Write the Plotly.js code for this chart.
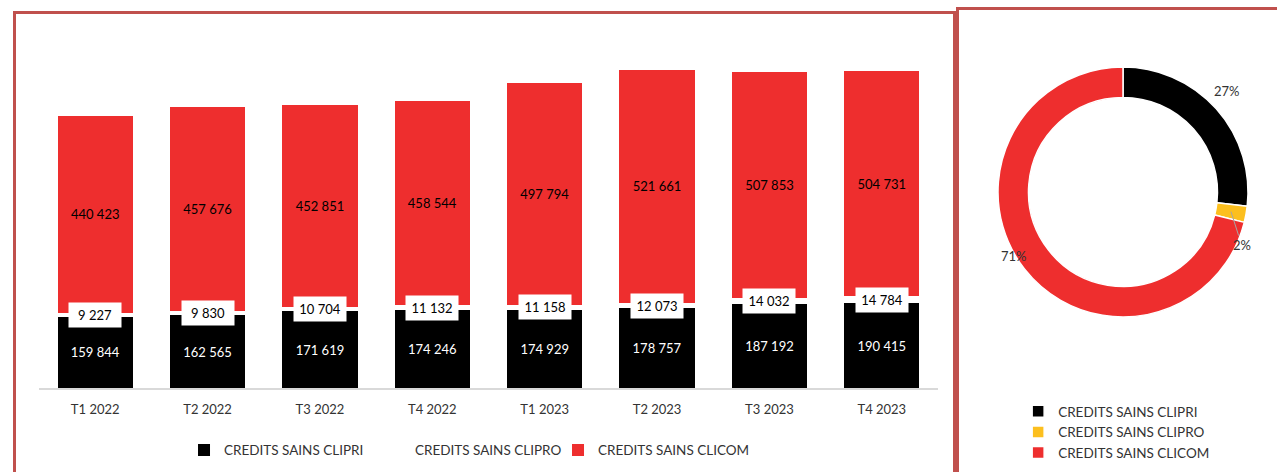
<!DOCTYPE html>
<html>
<head>
<meta charset="utf-8">
<script src="https://cdn.plot.ly/plotly-3.0.1.min.js"></script>
<style>
  html, body { margin: 0; padding: 0; background: #ffffff; width: 1277px; height: 472px; overflow: hidden; position: relative; }
  #leftBox { position: absolute; left: 13px; top: 11px; width: 937px; height: 470px; border: 3px solid #c0504d; }
  #rightBox { position: absolute; left: 956px; top: 7px; width: 340px; height: 475px; border: 3px solid #c0504d; }
  #barChart { position: absolute; left: 0; top: 0; }
  #pieChart { position: absolute; left: 0; top: 0; }
</style>
</head>
<body>
<div id="leftBox"><div id="barChart"></div></div>
<div id="rightBox"><div id="pieChart"></div></div>
<script>
// ---- data ----
const categories = ["T1 2022", "T2 2022", "T3 2022", "T4 2022", "T1 2023", "T2 2023", "T3 2023", "T4 2023"];
const clipri = [159844, 162565, 171619, 174246, 174929, 178757, 187192, 190415];
const clipro = [9227, 9830, 10704, 11132, 11158, 12073, 14032, 14784];
const clicom = [440423, 457676, 452851, 458544, 497794, 521661, 507853, 504731];
const seriesNames = ["CREDITS SAINS CLIPRI", "CREDITS SAINS CLIPRO", "CREDITS SAINS CLICOM"];
const pieValues = [190415, 14784, 504731];

// ---- styles ----
const RED = "#ee2e2e";
const BLACK = "#000000";
const YELLOW = "#fcbf1e";
const FONT = "Lato, 'Open Sans', sans-serif";
const TXT = "#333333";

function fmt(n) { return String(n).replace(/\B(?=(\d{3})+(?!\d))/g, " "); }

const barTraces = [
  {
    type: "bar", name: seriesNames[0], x: categories, y: clipri,
    marker: { color: BLACK, line: { width: 0 } },
    text: clipri.map(fmt), textposition: "inside", insidetextanchor: "middle",
    textangle: 0, constraintext: "none",
    textfont: { family: FONT, size: 13, color: "#ffffff" },
    legendwidth: 146,
    hoverinfo: "skip"
  },
  {
    type: "bar", name: seriesNames[1], x: categories, y: clipro,
    marker: { color: "#ffffff", line: { width: 0 } },
    textposition: "none", legendwidth: 138, hoverinfo: "skip"
  },
  {
    type: "bar", name: seriesNames[2], x: categories, y: clicom,
    marker: { color: RED, line: { width: 0 } },
    text: clicom.map(fmt), textposition: "inside", insidetextanchor: "middle",
    textangle: 0, constraintext: "none",
    textfont: { family: FONT, size: 13, color: "#000000" },
    hoverinfo: "skip"
  }
];

const proAnnotations = categories.map((c, i) => ({
  x: c, y: clipri[i] + clipro[i] / 2, xref: "x", yref: "y",
  text: fmt(clipro[i]), showarrow: false,
  bgcolor: "#ffffff", width: 46, height: 18, borderpad: 3,
  font: { family: FONT, size: 13, color: "#000000" }
}));

const barLayout = {
  width: 937, height: 460,
  margin: { l: 23, r: 15, t: 17, b: 86, autoexpand: false },
  paper_bgcolor: "rgba(0,0,0,0)", plot_bgcolor: "rgba(0,0,0,0)",
  barmode: "stack", bargap: 0.33,
  showlegend: true,
  legend: {
    orientation: "h", x: 0.1613, xanchor: "left", y: -0.1744, yanchor: "middle",
    font: { family: FONT, size: 13.5, color: TXT }, itemwidth: 30, traceorder: "normal"
  },
  xaxis: {
    type: "category", showgrid: false, zeroline: false,
    showline: true, linecolor: "#d9d9d9", linewidth: 1.5,
    ticks: "", ticklabelstandoff: 9,
    tickfont: { family: FONT, size: 13, color: TXT }
  },
  yaxis: {
    range: [0, 800000], visible: false, showgrid: false, zeroline: false
  },
  annotations: proAnnotations
};

Plotly.newPlot("barChart", barTraces, barLayout, { staticPlot: true, displayModeBar: false });

// ---- donut ----
const PIE_W = 318, PIE_H = 470;
const CX = 164, CY = 182, R_OUT = 125, HOLE = 0.756;
const total = pieValues.reduce((a, b) => a + b, 0);
// label placement style: angular shift (deg) and radius (px) per label
const labelShift = [-2.5, 13.8, 7.7];
const labelRadius = [145, 130, 126];
const leaderRadius = (R_OUT + R_OUT * HOLE) / 2;

function toPaper(px, py) { return { x: px / PIE_W, y: 1 - py / PIE_H }; }

let cum = 0;
const pieAnnotations = pieValues.map((v, i) => {
  const frac = v / total;
  const mid = (cum + frac / 2) * 360;
  cum += frac;
  const a = (mid + labelShift[i]) * Math.PI / 180;
  const lx = CX + labelRadius[i] * Math.sin(a);
  const ly = CY - labelRadius[i] * Math.cos(a);
  const txt = Math.round(frac * 100) + "%";
  const font = { family: FONT, size: 13, color: TXT };
  if (i === 1) {
    const m = mid * Math.PI / 180;
    const tx = CX + leaderRadius * Math.sin(m);
    const ty = CY - leaderRadius * Math.cos(m);
    const p = toPaper(tx, ty);
    return {
      xref: "paper", yref: "paper", x: p.x, y: p.y, text: txt, font: font,
      showarrow: true, arrowhead: 0, arrowwidth: 1, arrowcolor: "#a6a6a6",
      axref: "pixel", ayref: "pixel", ax: lx - tx, ay: ly - ty, standoff: 0
    };
  }
  const p = toPaper(lx, ly);
  return {
    xref: "paper", yref: "paper", x: p.x, y: p.y, xanchor: "center", yanchor: "middle",
    text: txt, font: font, showarrow: false
  };
});

const pieTrace = {
  type: "pie", labels: seriesNames, values: pieValues,
  sort: false, direction: "clockwise", rotation: 0, hole: HOLE,
  marker: { colors: [BLACK, YELLOW, RED], line: { color: "#ffffff", width: 1.5 } },
  textinfo: "none",
  domain: { x: [(CX - R_OUT) / PIE_W, (CX + R_OUT) / PIE_W], y: [1 - (CY + R_OUT) / PIE_H, 1 - (CY - R_OUT) / PIE_H] },
  hoverinfo: "skip"
};

const pieLayout = {
  width: PIE_W, height: PIE_H,
  margin: { l: 0, r: 0, t: 0, b: 0, autoexpand: false },
  paper_bgcolor: "rgba(0,0,0,0)",
  showlegend: true,
  legend: {
    orientation: "v", x: 0.186, xanchor: "left", y: 0.102, yanchor: "middle",
    font: { family: FONT, size: 13.5, color: TXT }, itemwidth: 30, traceorder: "normal"
  },
  annotations: pieAnnotations
};

Plotly.newPlot("pieChart", [pieTrace], pieLayout, { staticPlot: true, displayModeBar: false });
</script>
</body>
</html>
